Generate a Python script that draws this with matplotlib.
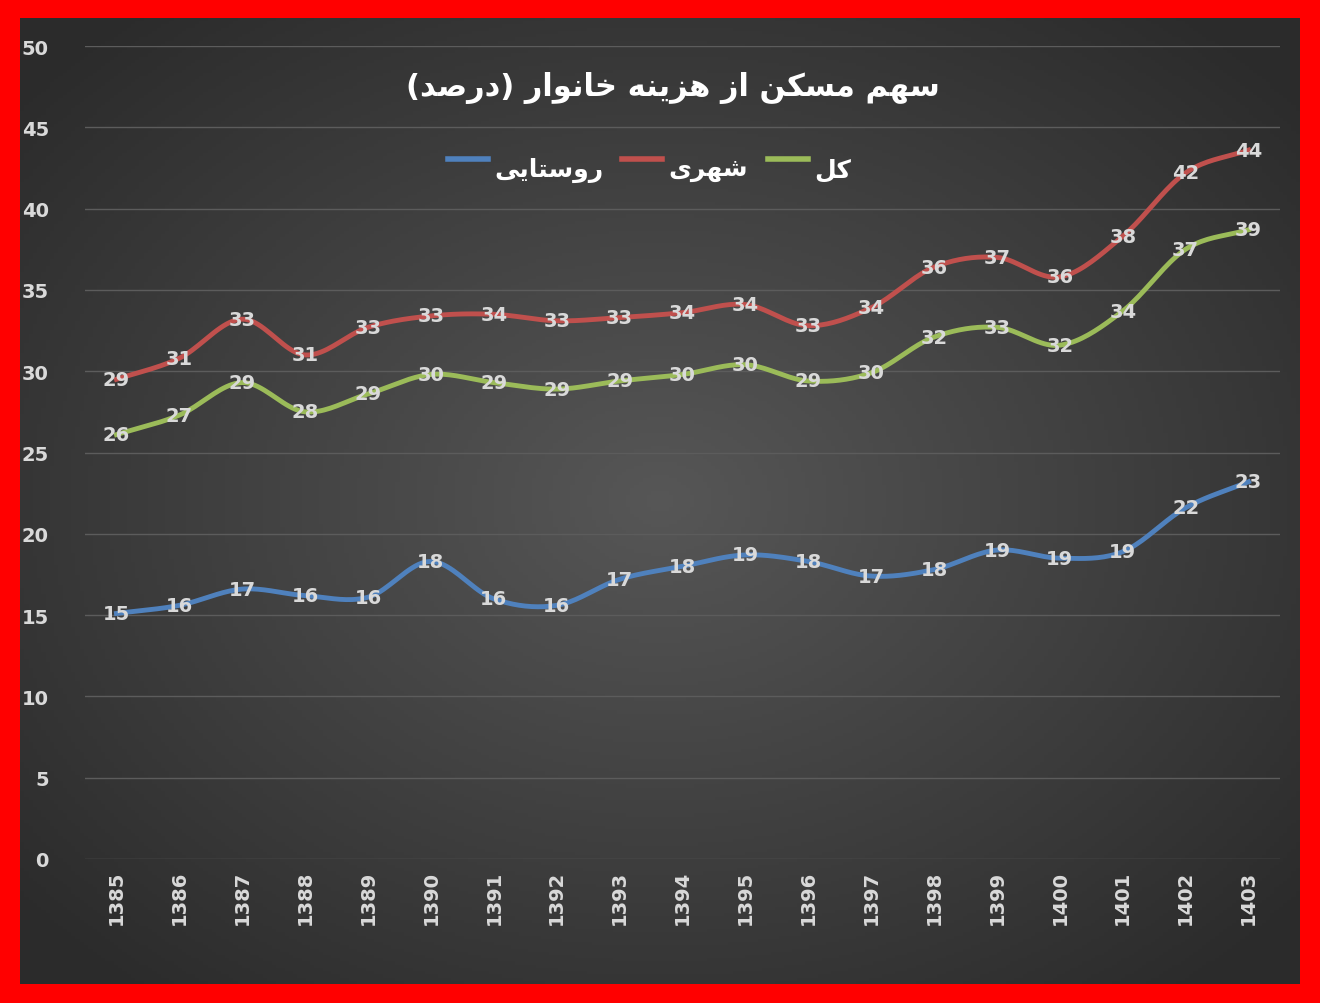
import numpy as np
import matplotlib
matplotlib.use("Agg")
import matplotlib.pyplot as plt

years = [str(y) for y in range(1385, 1404)]
urban = [29.5, 30.8, 33.2, 31.0, 32.7, 33.4, 33.5, 33.1, 33.3, 33.6, 34.1, 32.8, 33.9, 36.4, 37.0, 35.8, 38.3, 42.2, 43.6]
total = [26.1, 27.3, 29.3, 27.5, 28.6, 29.8, 29.3, 28.9, 29.4, 29.8, 30.4, 29.4, 29.9, 32.1, 32.7, 31.6, 33.7, 37.5, 38.7]
rural = [15.1, 15.6, 16.6, 16.2, 16.1, 18.3, 16.0, 15.6, 17.2, 18.0, 18.7, 18.3, 17.4, 17.8, 19.0, 18.5, 18.9, 21.6, 23.2]
urban_lbl = [29, 31, 33, 31, 33, 33, 34, 33, 33, 34, 34, 33, 34, 36, 37, 36, 38, 42, 44]
total_lbl = [26, 27, 29, 28, 29, 30, 29, 29, 29, 30, 30, 29, 30, 32, 33, 32, 34, 37, 39]
rural_lbl = [15, 16, 17, 16, 16, 18, 16, 16, 17, 18, 19, 18, 17, 18, 19, 19, 19, 22, 23]

FORMS = {
 '\u0627': (0xFE8D, 0xFE8E, None, None), '\u062A': (0xFE95, 0xFE96, 0xFE97, 0xFE98),
 '\u062E': (0xFEA5, 0xFEA6, 0xFEA7, 0xFEA8), '\u062F': (0xFEA9, 0xFEAA, None, None),
 '\u0631': (0xFEAD, 0xFEAE, None, None), '\u0632': (0xFEAF, 0xFEB0, None, None),
 '\u0633': (0xFEB1, 0xFEB2, 0xFEB3, 0xFEB4), '\u0634': (0xFEB5, 0xFEB6, 0xFEB7, 0xFEB8),
 '\u0635': (0xFEB9, 0xFEBA, 0xFEBB, 0xFEBC), '\u0644': (0xFEDD, 0xFEDE, 0xFEDF, 0xFEE0),
 '\u0645': (0xFEE1, 0xFEE2, 0xFEE3, 0xFEE4), '\u0646': (0xFEE5, 0xFEE6, 0xFEE7, 0xFEE8),
 '\u0647': (0xFEE9, 0xFEEA, 0xFEEB, 0xFEEC), '\u0648': (0xFEED, 0xFEEE, None, None),
 '\u06A9': (0xFB8E, 0xFB8F, 0xFB90, 0xFB91), '\u06CC': (0xFBFC, 0xFBFD, 0xFBFE, 0xFBFF),
}
def shape(s):
    out = []
    for i, c in enumerate(s):
        if c not in FORMS:
            out.append({'(': ')', ')': '('}.get(c, c)); continue
        f = FORMS[c]
        prev = s[i-1] if i > 0 else ''
        nxt = s[i+1] if i+1 < len(s) else ''
        jp = prev in FORMS and FORMS[prev][2] is not None
        jn = nxt in FORMS and f[2] is not None
        if jp and jn: k = 3
        elif jp: k = 1
        elif jn: k = 2
        else: k = 0
        out.append(chr(f[k]))
    return ''.join(out[::-1])

def smooth(y, n=20):
    y = np.asarray(y, float); x = np.arange(len(y))
    p = np.concatenate([[2*y[0]-y[1]], y, [2*y[-1]-y[-2]]])
    xs, ys = [], []
    for i in range(len(y)-1):
        t = np.linspace(0, 1, n, endpoint=False)
        p0, p1, p2, p3 = p[i], p[i+1], p[i+2], p[i+3]
        ys.append(0.5*((2*p1) + (-p0+p2)*t + (2*p0-5*p1+4*p2-p3)*t**2 + (-p0+3*p1-3*p2+p3)*t**3))
        xs.append(x[i]+t)
    xs.append([x[-1]]); ys.append([y[-1]])
    return np.concatenate(xs), np.concatenate(ys)

fig = plt.figure(figsize=(13.2, 10.04), dpi=100, facecolor='#ff0000')
bg = fig.add_axes([20/1320, 19/1004, 1280/1320, 966/1004])
yy, xx = np.mgrid[-1:1:300j, -1:1:300j]
r = np.sqrt(xx**2 + yy**2)
g = np.clip(0.34 - 0.13*r, 0.17, 0.34)
bg.imshow(np.dstack([g, g, g]), aspect='auto', extent=[0, 1, 0, 1])
bg.axis('off')

ax = fig.add_axes([85/1320, 1-860/1004, 1195/1320, 813/1004])
ax.patch.set_alpha(0)
ax.set_ylim(0, 50)
ax.set_xlim(-0.5, 18.5)
ax.set_yticks(range(0, 51, 5))
ax.set_xticks(range(len(years)))
ax.set_xticklabels(years, rotation=90)
ax.tick_params(colors='#d9d9d9', length=0, labelsize=14)
for t in ax.get_xticklabels() + ax.get_yticklabels():
    t.set_fontweight('bold')
ax.tick_params(axis='y', pad=26)
ax.tick_params(axis='x', pad=8)
ax.grid(axis='y', color='#5c5c5c', lw=1)
for s in ax.spines.values(): s.set_visible(False)

cols = {'rural': '#4f81bd', 'urban': '#c0504d', 'total': '#9bbb59'}
for key, vals, lbl in [('rural', rural, rural_lbl), ('urban', urban, urban_lbl), ('total', total, total_lbl)]:
    xs, ys = smooth(vals)
    ax.plot(xs, ys, color=cols[key], lw=3.5)
    for i, (v, l) in enumerate(zip(vals, lbl)):
        ax.text(i, v, str(l), color='#d9d9d9', fontsize=14, fontweight='bold', ha='center', va='center')

fig.text(0.51, 1-88/1004, shape('سهم مسکن از هزینه خانوار (درصد)'), color='white',
         fontsize=22, fontweight='bold', ha='center', va='center', family=['DejaVu Sans'])
legend_items = [(448, 'روستایی', cols['rural']), (622, 'شهری', cols['urban']), (768, 'کل', cols['total'])]
for x0, name, c in legend_items:
    fig.add_artist(plt.Line2D([x0/1320, (x0+40)/1320], [1-160/1004]*2, color=c, lw=4))
    fig.text((x0+46)/1320, 1-170/1004, shape(name), color='white', fontsize=18,
             fontweight='bold', ha='left', va='center', family=['DejaVu Sans'])

fig.savefig('out.png', dpi=100, facecolor=fig.get_facecolor())
